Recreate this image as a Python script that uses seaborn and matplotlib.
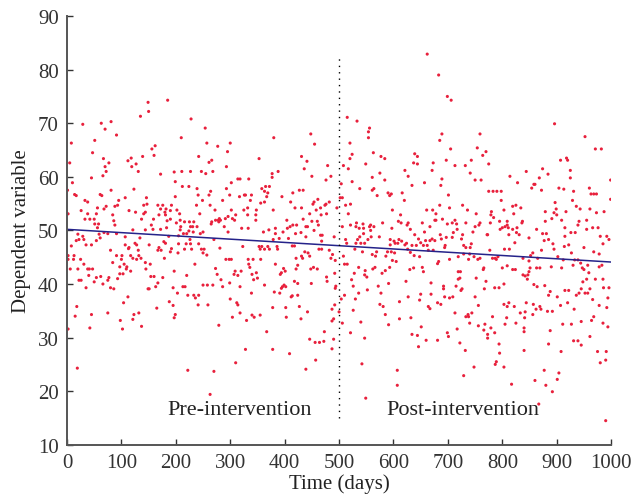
import pandas as pd
import seaborn as sns
import matplotlib.pyplot as plt

# points, (day, value), one list per 200-day strip
pts_0_200 = [(185, 74.3), (149, 73.9), (150, 72.2), (135, 71.3), (81, 70.3), (63, 70.0), (29, 69.8), (70, 68.9), (91, 67.8), (51, 66.8), (8, 66.3), (162, 65.8), (156, 65.2), (47, 64.5), (160, 64.0), (139, 63.8), (118, 63.5), (67, 63.4), (112, 63.0), (77, 62.6), (5, 62.6), (127, 62.4), (70, 61.9), (119, 61.9), (72, 61.0), (131, 61.0), (197, 60.9), (172, 60.5), (66, 60.2), (45, 59.8), (199, 59.1), (10, 58.9), (123, 57.7), (1, 57.5), (81, 57.5), (14, 56.7), (61, 56.7), (17, 56.5), (64, 56.5), (199, 56.3), (146, 56.1), (107, 56.1), (33, 55.6), (95, 55.6), (38, 55.3), (147, 54.9), (93, 54.7), (141, 54.7), (167, 54.7), (176, 54.7), (192, 54.7), (72, 54.5), (88, 54.5), (56, 54.2), (68, 54.0), (172, 54.0), (182, 54.0), (26, 53.7), (114, 53.7), (190, 53.7), (126, 53.4), (144, 53.4), (180, 53.4), (2, 53.1), (38, 53.1), (54, 53.1), (141, 53.1), (84, 52.9), (169, 52.9), (181, 52.9), (33, 52.1), (42, 52.1), (50, 52.1), (137, 52.1), (159, 52.1), (190, 52.1), (86, 51.8), (184, 51.8), (201, 51.4), (51, 51.2), (58, 51.2), (88, 51.0), (155, 51.0), (56, 50.5), (183, 50.5), (158, 50.2), (172, 50.2), (121, 50.1), (144, 50.1), (68, 49.6), (75, 49.4), (91, 49.4), (20, 49.3), (59, 49.3), (29, 48.9), (187, 48.9), (107, 48.8), (61, 48.6), (134, 48.6), (22, 48.3), (31, 48.3), (54, 48.1), (17, 48.1), (178, 47.9), (125, 47.6), (181, 47.6), (35, 47.3), (45, 47.3), (107, 47.3), (128, 47.3), (151, 47.3), (8, 47.1), (114, 46.8), (169, 46.8), (113, 46.6), (192, 46.6), (80, 46.3), (131, 46.3), (167, 46.3), (173, 46.3), (190, 46.0), (2, 45.3), (13, 45.3), (91, 45.3), (101, 45.3), (117, 45.3), (132, 45.3), (121, 44.8), (136, 44.8), (179, 44.8), (2, 44.6), (12, 44.6), (25, 44.6), (100, 44.6), (128, 44.6), (84, 44.0), (144, 44.0), (31, 43.7), (105, 43.7), (153, 43.7), (97, 43.2), (110, 43.2), (6, 42.8), (20, 42.8), (38, 42.8), (41, 42.8), (47, 42.8), (109, 42.8), (145, 42.8), (117, 42.4), (197, 42.4), (97, 41.9), (103, 41.9), (40, 41.6), (62, 41.4), (154, 41.4), (160, 41.4), (54, 41.2), (77, 41.2), (176, 41.2), (93, 41.0), (22, 40.7), (26, 40.7), (75, 40.7), (50, 40.4), (167, 40.2), (66, 40.0), (163, 39.5), (35, 39.3), (80, 39.3), (195, 39.3), (86, 39.1), (149, 39.1), (151, 39.1), (112, 37.6), (188, 36.7), (104, 36.5), (195, 36.0), (18, 35.8), (165, 35.5), (75, 34.6), (132, 34.6), (45, 34.3), (123, 34.3), (199, 34.3), (15, 34.0), (197, 33.7), (121, 33.4), (98, 33.2), (137, 32.1), (42, 31.8), (102, 31.6), (2, 31.6), (19, 24.3)]

pts_200_412 = [(228, 70.8), (254, 69.1), (210, 67.3), (380, 67.3), (257, 66.3), (300, 66.3), (277, 65.7), (295, 64.7), (242, 63.8), (353, 63.4), (266, 63.1), (261, 62.7), (293, 61.9), (211, 61.0), (227, 61.0), (247, 61.0), (268, 61.0), (388, 61.0), (255, 60.6), (377, 60.6), (377, 59.9), (318, 59.6), (314, 59.6), (334, 59.6), (302, 58.9), (212, 58.2), (224, 58.2), (365, 58.2), (372, 58.2), (239, 57.8), (293, 57.8), (358, 57.8), (264, 57.3), (363, 57.3), (369, 57.0), (261, 56.6), (241, 56.6), (326, 56.6), (328, 56.6), (339, 56.6), (299, 56.6), (317, 56.3), (367, 56.3), (395, 56.3), (249, 55.6), (286, 55.6), (337, 55.6), (363, 55.3), (411, 55.3), (356, 55.1), (238, 54.7), (263, 54.7), (332, 54.2), (202, 53.8), (272, 53.8), (302, 53.8), (325, 53.8), (348, 53.8), (379, 53.8), (244, 53.1), (207, 53.1), (310, 52.9), (332, 52.9), (347, 52.9), (296, 52.6), (280, 52.2), (291, 52.2), (304, 52.2), (208, 51.9), (273, 51.9), (278, 51.9), (282, 51.9), (308, 51.9), (347, 51.9), (404, 51.9), (216, 51.6), (225, 51.6), (233, 51.6), (266, 51.6), (279, 51.6), (265, 51.2), (209, 50.7), (227, 50.7), (231, 50.7), (239, 50.7), (289, 50.7), (410, 50.7), (321, 50.4), (333, 50.4), (383, 50.4), (405, 50.4), (208, 50.1), (371, 50.1), (224, 49.9), (232, 49.7), (250, 49.7), (296, 49.7), (361, 49.7), (397, 49.7), (214, 49.4), (220, 49.4), (245, 49.4), (383, 49.4), (205, 49.0), (390, 48.5), (407, 48.5), (226, 48.3), (270, 48.3), (379, 48.3), (205, 47.5), (219, 47.5), (227, 47.5), (242, 47.5), (323, 47.0), (353, 47.0), (358, 47.0), (369, 47.0), (386, 47.0), (281, 46.7), (216, 46.5), (229, 46.5), (247, 46.5), (252, 46.5), (355, 46.5), (363, 46.5), (372, 46.5), (387, 46.5), (204, 45.8), (250, 45.8), (257, 45.4), (292, 44.6), (298, 44.6), (302, 44.6), (333, 44.6), (342, 44.6), (356, 44.6), (235, 43.7), (334, 43.7), (383, 43.7), (336, 43.1), (398, 42.9), (273, 42.9), (309, 42.4), (320, 42.4), (401, 42.4), (348, 42.1), (394, 42.1), (276, 41.8), (307, 41.8), (340, 41.8), (392, 41.8), (220, 41.6), (314, 41.6), (350, 41.1), (283, 40.8), (343, 40.8), (299, 40.2), (250, 39.8), (258, 39.8), (268, 39.8), (363, 39.8), (399, 39.8), (213, 39.5), (217, 39.5), (286, 39.5), (318, 39.5), (396, 39.5), (402, 39.5), (394, 39.2), (381, 38.5), (203, 38.3), (339, 38.3), (391, 38.3), (222, 37.9), (233, 37.9), (242, 37.9), (412, 37.6), (236, 37.4), (300, 37.2), (312, 36.5), (241, 36.1), (259, 36.1), (314, 36.1), (378, 35.6), (402, 35.6), (318, 34.6), (340, 34.2), (355, 34.2), (304, 33.8), (344, 33.8), (403, 33.8), (330, 33.2), (279, 32.3), (367, 31.1), (328, 27.8), (378, 27.8), (409, 27.0), (310, 25.3), (222, 23.9), (270, 23.7), (263, 19.4)]

pts_412_624 = [(515, 71.1), (533, 70.4), (556, 69.1), (554, 68.4), (448, 68.0), (554, 67.3), (520, 66.3), (455, 66.1), (563, 64.5), (524, 64.2), (431, 63.8), (577, 63.8), (520, 63.4), (584, 63.4), (441, 62.9), (549, 62.4), (479, 62.1), (508, 62.1), (436, 61.5), (517, 61.5), (621, 61.2), (575, 60.7), (450, 60.1), (485, 60.1), (561, 59.9), (476, 59.4), (584, 59.4), (524, 59.1), (504, 58.7), (538, 57.8), (564, 57.8), (427, 57.5), (434, 57.5), (561, 57.5), (415, 57.0), (590, 57.0), (616, 57.0), (596, 56.8), (570, 56.5), (593, 56.5), (502, 56.1), (506, 56.1), (461, 55.8), (620, 55.6), (482, 55.3), (454, 55.3), (452, 54.9), (521, 54.9), (476, 54.9), (512, 54.7), (474, 54.7), (431, 54.2), (419, 54.2), (466, 54.2), (496, 54.2), (458, 53.8), (598, 53.8), (446, 53.1), (477, 53.1), (517, 53.1), (467, 52.9), (613, 52.9), (434, 52.1), (450, 51.7), (460, 51.7), (609, 51.7), (532, 51.4), (614, 51.4), (580, 51.4), (544, 51.2), (415, 51.0), (422, 51.0), (462, 51.0), (521, 51.0), (558, 51.0), (439, 50.7), (442, 50.7), (506, 50.7), (531, 50.7), (556, 50.7), (564, 50.7), (537, 50.4), (545, 50.4), (597, 50.4), (454, 50.0), (558, 50.0), (430, 49.6), (420, 49.4), (545, 49.4), (469, 49.1), (466, 49.1), (439, 48.8), (491, 48.8), (538, 48.8), (559, 48.8), (574, 48.8), (512, 48.3), (534, 48.3), (553, 48.3), (594, 48.3), (610, 48.3), (468, 48.0), (601, 48.0), (615, 48.0), (514, 47.6), (531, 47.6), (540, 47.6), (547, 47.6), (603, 47.6), (608, 47.6), (624, 47.6), (621, 47.3), (594, 47.3), (414, 47.1), (418, 47.1), (463, 46.5), (468, 46.5), (529, 46.5), (482, 46.3), (437, 46.0), (543, 46.0), (569, 46.0), (589, 46.0), (596, 46.0), (443, 45.8), (602, 45.8), (488, 45.5), (561, 45.5), (508, 45.2), (431, 45.2), (446, 45.2), (567, 45.2), (586, 45.2), (421, 44.8), (433, 44.8), (485, 44.8), (493, 44.4), (598, 44.4), (605, 44.2), (510, 43.7), (515, 43.7), (424, 43.5), (453, 43.1), (536, 43.1), (566, 43.1), (593, 43.1), (421, 42.8), (448, 42.8), (460, 42.8), (562, 42.8), (585, 42.5), (548, 42.5), (492, 42.0), (528, 42.0), (579, 42.0), (547, 41.7), (477, 41.3), (551, 41.3), (523, 40.8), (418, 40.5), (478, 40.5), (623, 40.5), (424, 40.1), (449, 40.1), (591, 40.1), (526, 39.6), (494, 39.6), (572, 39.6), (493, 39.2), (552, 38.9), (577, 38.3), (536, 38.3), (424, 37.9), (510, 37.9), (414, 37.8), (504, 37.2), (530, 37.2), (611, 36.7), (575, 36.2), (492, 36.1), (427, 35.8), (581, 35.8), (487, 35.3), (526, 35.1), (442, 34.8), (500, 34.8), (585, 34.3), (430, 33.5), (490, 33.5), (611, 33.5), (487, 33.1), (540, 32.9), (506, 32.7), (591, 32.4), (473, 31.1), (521, 30.9), (547, 29.9), (446, 29.7), (490, 29.7), (472, 29.3), (456, 29.1), (464, 29.1), (487, 27.9), (457, 25.8), (542, 25.1), (439, 24.1), (607, 23.9), (607, 21.1), (549, 18.7)]

pts_625_836 = [(662, 82.9), (683, 79.0), (699, 75.0), (706, 74.3), (689, 68.0), (759, 68.0), (685, 66.8), (754, 65.4), (705, 65.2), (770, 64.7), (639, 64.3), (764, 64.0), (644, 63.8), (697, 63.1), (743, 63.1), (637, 62.6), (673, 62.6), (644, 62.4), (775, 62.4), (713, 62.1), (732, 62.1), (671, 61.2), (741, 60.7), (627, 60.1), (814, 60.1), (689, 59.6), (750, 59.4), (761, 59.4), (657, 58.9), (828, 58.9), (634, 58.4), (687, 58.4), (790, 57.3), (798, 57.3), (775, 57.3), (783, 57.3), (701, 56.6), (798, 55.6), (685, 54.7), (727, 54.7), (825, 54.7), (819, 54.5), (703, 54.2), (834, 54.2), (661, 53.8), (672, 53.8), (736, 53.8), (803, 53.8), (780, 53.5), (678, 53.1), (752, 53.1), (821, 53.1), (779, 52.9), (784, 52.4), (690, 52.1), (676, 51.9), (678, 51.9), (713, 51.9), (795, 51.7), (809, 51.7), (627, 51.4), (653, 51.4), (708, 51.4), (733, 51.4), (759, 51.4), (778, 51.4), (836, 51.4), (716, 51.2), (699, 51.2), (625, 51.0), (809, 51.0), (757, 51.0), (667, 50.7), (750, 50.7), (805, 50.7), (800, 50.5), (811, 50.5), (827, 50.5), (631, 50.2), (717, 50.2), (796, 50.2), (819, 50.2), (657, 49.7), (746, 49.7), (710, 49.6), (826, 49.6), (639, 49.2), (686, 49.2), (772, 49.2), (773, 49.2), (727, 49.2), (812, 49.2), (831, 49.2), (697, 48.7), (708, 48.7), (646, 48.4), (725, 48.4), (671, 48.4), (688, 48.4), (659, 48.1), (667, 48.1), (676, 48.1), (650, 47.7), (823, 47.7), (743, 47.5), (634, 47.2), (642, 47.2), (655, 47.2), (662, 47.2), (695, 47.2), (729, 47.2), (733, 46.8), (741, 46.8), (694, 46.8), (626, 46.5), (804, 46.5), (813, 46.5), (777, 46.3), (673, 46.3), (664, 46.3), (631, 45.9), (729, 45.6), (740, 45.6), (638, 45.3), (648, 45.1), (719, 45.1), (748, 45.1), (792, 45.1), (759, 44.8), (782, 44.8), (787, 44.8), (703, 44.6), (738, 44.6), (755, 44.6), (789, 44.6), (683, 44.2), (681, 43.8), (809, 43.4), (653, 43.1), (637, 43.0), (766, 43.0), (800, 43.0), (630, 42.7), (765, 42.7), (819, 42.7), (824, 42.7), (655, 42.3), (719, 42.3), (723, 42.3), (722, 41.1), (752, 41.1), (719, 40.9), (770, 40.5), (669, 40.2), (803, 40.0), (692, 39.6), (715, 39.6), (786, 39.3), (794, 39.3), (692, 39.1), (726, 39.1), (767, 39.1), (724, 38.8), (650, 38.1), (669, 38.1), (627, 37.6), (694, 37.6), (709, 37.6), (750, 37.6), (703, 37.4), (648, 37.0), (681, 36.5), (812, 36.5), (687, 36.2), (803, 36.2), (756, 36.0), (664, 35.8), (809, 35.8), (822, 35.8), (667, 35.4), (713, 34.6), (744, 34.6), (833, 34.6), (737, 34.3), (733, 33.9), (738, 33.9), (782, 33.9), (632, 33.7), (808, 33.7), (740, 32.7), (825, 32.7), (768, 32.5), (805, 32.5), (756, 32.2), (651, 32.0), (779, 31.8), (717, 31.6), (766, 31.4), (699, 30.9), (786, 30.9), (634, 30.6), (773, 30.6), (644, 30.4), (701, 30.2), (773, 29.9), (660, 29.5), (681, 29.5), (722, 29.0), (794, 28.8), (646, 28.3), (732, 27.6), (795, 27.1), (789, 25.5), (787, 25.0), (748, 24.5), (803, 24.5), (729, 22.9), (817, 21.3)]

pts_836_1000 = [(896, 69.9), (952, 67.5), (971, 65.2), (982, 65.2), (918, 63.5), (907, 63.1), (920, 63.1), (925, 61.2), (874, 61.5), (844, 61.0), (884, 60.5), (925, 59.8), (868, 59.8), (999, 59.4), (858, 58.6), (860, 58.6), (854, 57.9), (904, 57.9), (960, 57.9), (913, 57.7), (872, 57.5), (931, 57.3), (963, 56.8), (968, 56.8), (973, 56.8), (999, 55.8), (929, 55.6), (897, 55.2), (936, 54.5), (899, 54.0), (943, 54.0), (961, 54.0), (879, 53.5), (917, 53.5), (987, 53.5), (895, 53.3), (973, 53.3), (900, 52.9), (891, 52.2), (909, 51.9), (955, 51.9), (837, 51.7), (879, 51.7), (941, 51.7), (939, 51.0), (915, 50.5), (966, 50.5), (976, 50.5), (863, 50.2), (955, 50.2), (926, 49.6), (934, 49.6), (874, 49.4), (881, 49.4), (915, 48.9), (980, 48.9), (992, 48.9), (849, 48.6), (885, 48.3), (996, 48.3), (877, 48.1), (893, 47.5), (985, 47.5), (922, 47.3), (914, 47.0), (950, 46.8), (895, 46.5), (872, 46.3), (968, 46.0), (927, 45.8), (856, 45.8), (978, 45.6), (852, 45.3), (902, 45.1), (838, 44.8), (865, 44.8), (912, 44.5), (933, 44.5), (939, 44.5), (849, 44.3), (944, 43.9), (930, 43.5), (957, 43.5), (983, 43.5), (890, 43.2), (978, 43.2), (851, 43.0), (863, 43.0), (869, 43.0), (909, 43.0), (947, 43.0), (950, 42.7), (849, 42.3), (959, 42.1), (838, 41.7), (847, 41.7), (842, 41.5), (846, 40.9), (955, 40.9), (971, 40.9), (985, 40.9), (948, 40.4), (858, 39.9), (878, 39.7), (864, 39.5), (986, 39.3), (996, 39.3), (945, 39.1), (961, 39.1), (915, 38.8), (922, 38.8), (888, 38.6), (941, 38.3), (952, 38.3), (957, 38.3), (885, 37.9), (936, 37.9), (901, 37.6), (994, 37.4), (966, 37.1), (844, 36.5), (920, 36.5), (857, 36.2), (907, 36.0), (978, 36.0), (869, 35.8), (992, 35.6), (862, 35.3), (871, 35.3), (932, 35.3), (883, 34.9), (892, 34.9), (842, 34.8), (856, 34.3), (968, 33.9), (841, 33.7), (964, 33.2), (945, 33.0), (985, 32.7), (911, 32.5), (927, 32.5), (994, 32.0), (840, 31.8), (888, 31.3), (840, 31.1), (961, 30.2), (939, 29.4), (931, 29.4), (885, 28.8), (945, 28.6), (840, 27.6), (908, 27.4), (975, 27.4), (991, 27.4), (990, 25.8), (980, 25.3), (877, 23.9), (904, 23.4), (901, 22.2), (860, 22.0), (880, 21.1), (892, 19.9), (867, 17.6), (990, 14.5)]

# fitted trend, read at both ends
trend_days = [0, 1000]
trend_vals = [50.2, 44.1]

intervention_day = 500
phase_labels = ["Pre-intervention", "Post-intervention"]
phase_label_days = [318, 728]

x_ticks = list(range(0, 1001, 100))
y_ticks = list(range(10, 91, 10))

df = pd.DataFrame(pts_0_200 + pts_200_412 + pts_412_624 + pts_625_836 + pts_836_1000,
                  columns=["day", "value"])
trend = pd.DataFrame({"day": trend_days, "value": trend_vals})

sns.set_style("ticks")
plt.rcParams["font.family"] = ["Liberation Serif", "DejaVu Serif"]

fig = plt.figure(figsize=(6.32, 5.02), dpi=100)
ax = fig.add_axes([0.106, 0.112, 0.861, 0.854])

sns.scatterplot(data=df, x="day", y="value", ax=ax, s=5, color="#e8203c",
                linewidth=0, edgecolor="none")
sns.lineplot(data=trend, x="day", y="value", ax=ax, color="#25238a", linewidth=1.1)
ax.vlines(intervention_day, 15, 82.5, colors="black", linestyles=(0, (1, 3.6)), linewidth=1.0)

for lab, d in zip(phase_labels, phase_label_days):
    ax.text(d, 16.6, lab, ha="center", va="center", fontsize=16, color="#222222")

ax.set_xlim(0, 1000)
ax.set_ylim(10, 90)
ax.set_xticks(x_ticks)
ax.set_yticks(y_ticks)
ax.tick_params(direction="in", length=4, width=1, colors="#333333", labelsize=15, pad=6)
ax.set_xlabel("Time (days)", fontsize=15, color="#222222", labelpad=1)
ax.set_ylabel("Dependent variable", fontsize=15, color="#222222", labelpad=5)

sns.despine(ax=ax)
for side in ["left", "bottom"]:
    ax.spines[side].set_color("#555555")
    ax.spines[side].set_linewidth(1.4)

fig.savefig("out.png", dpi=100)
